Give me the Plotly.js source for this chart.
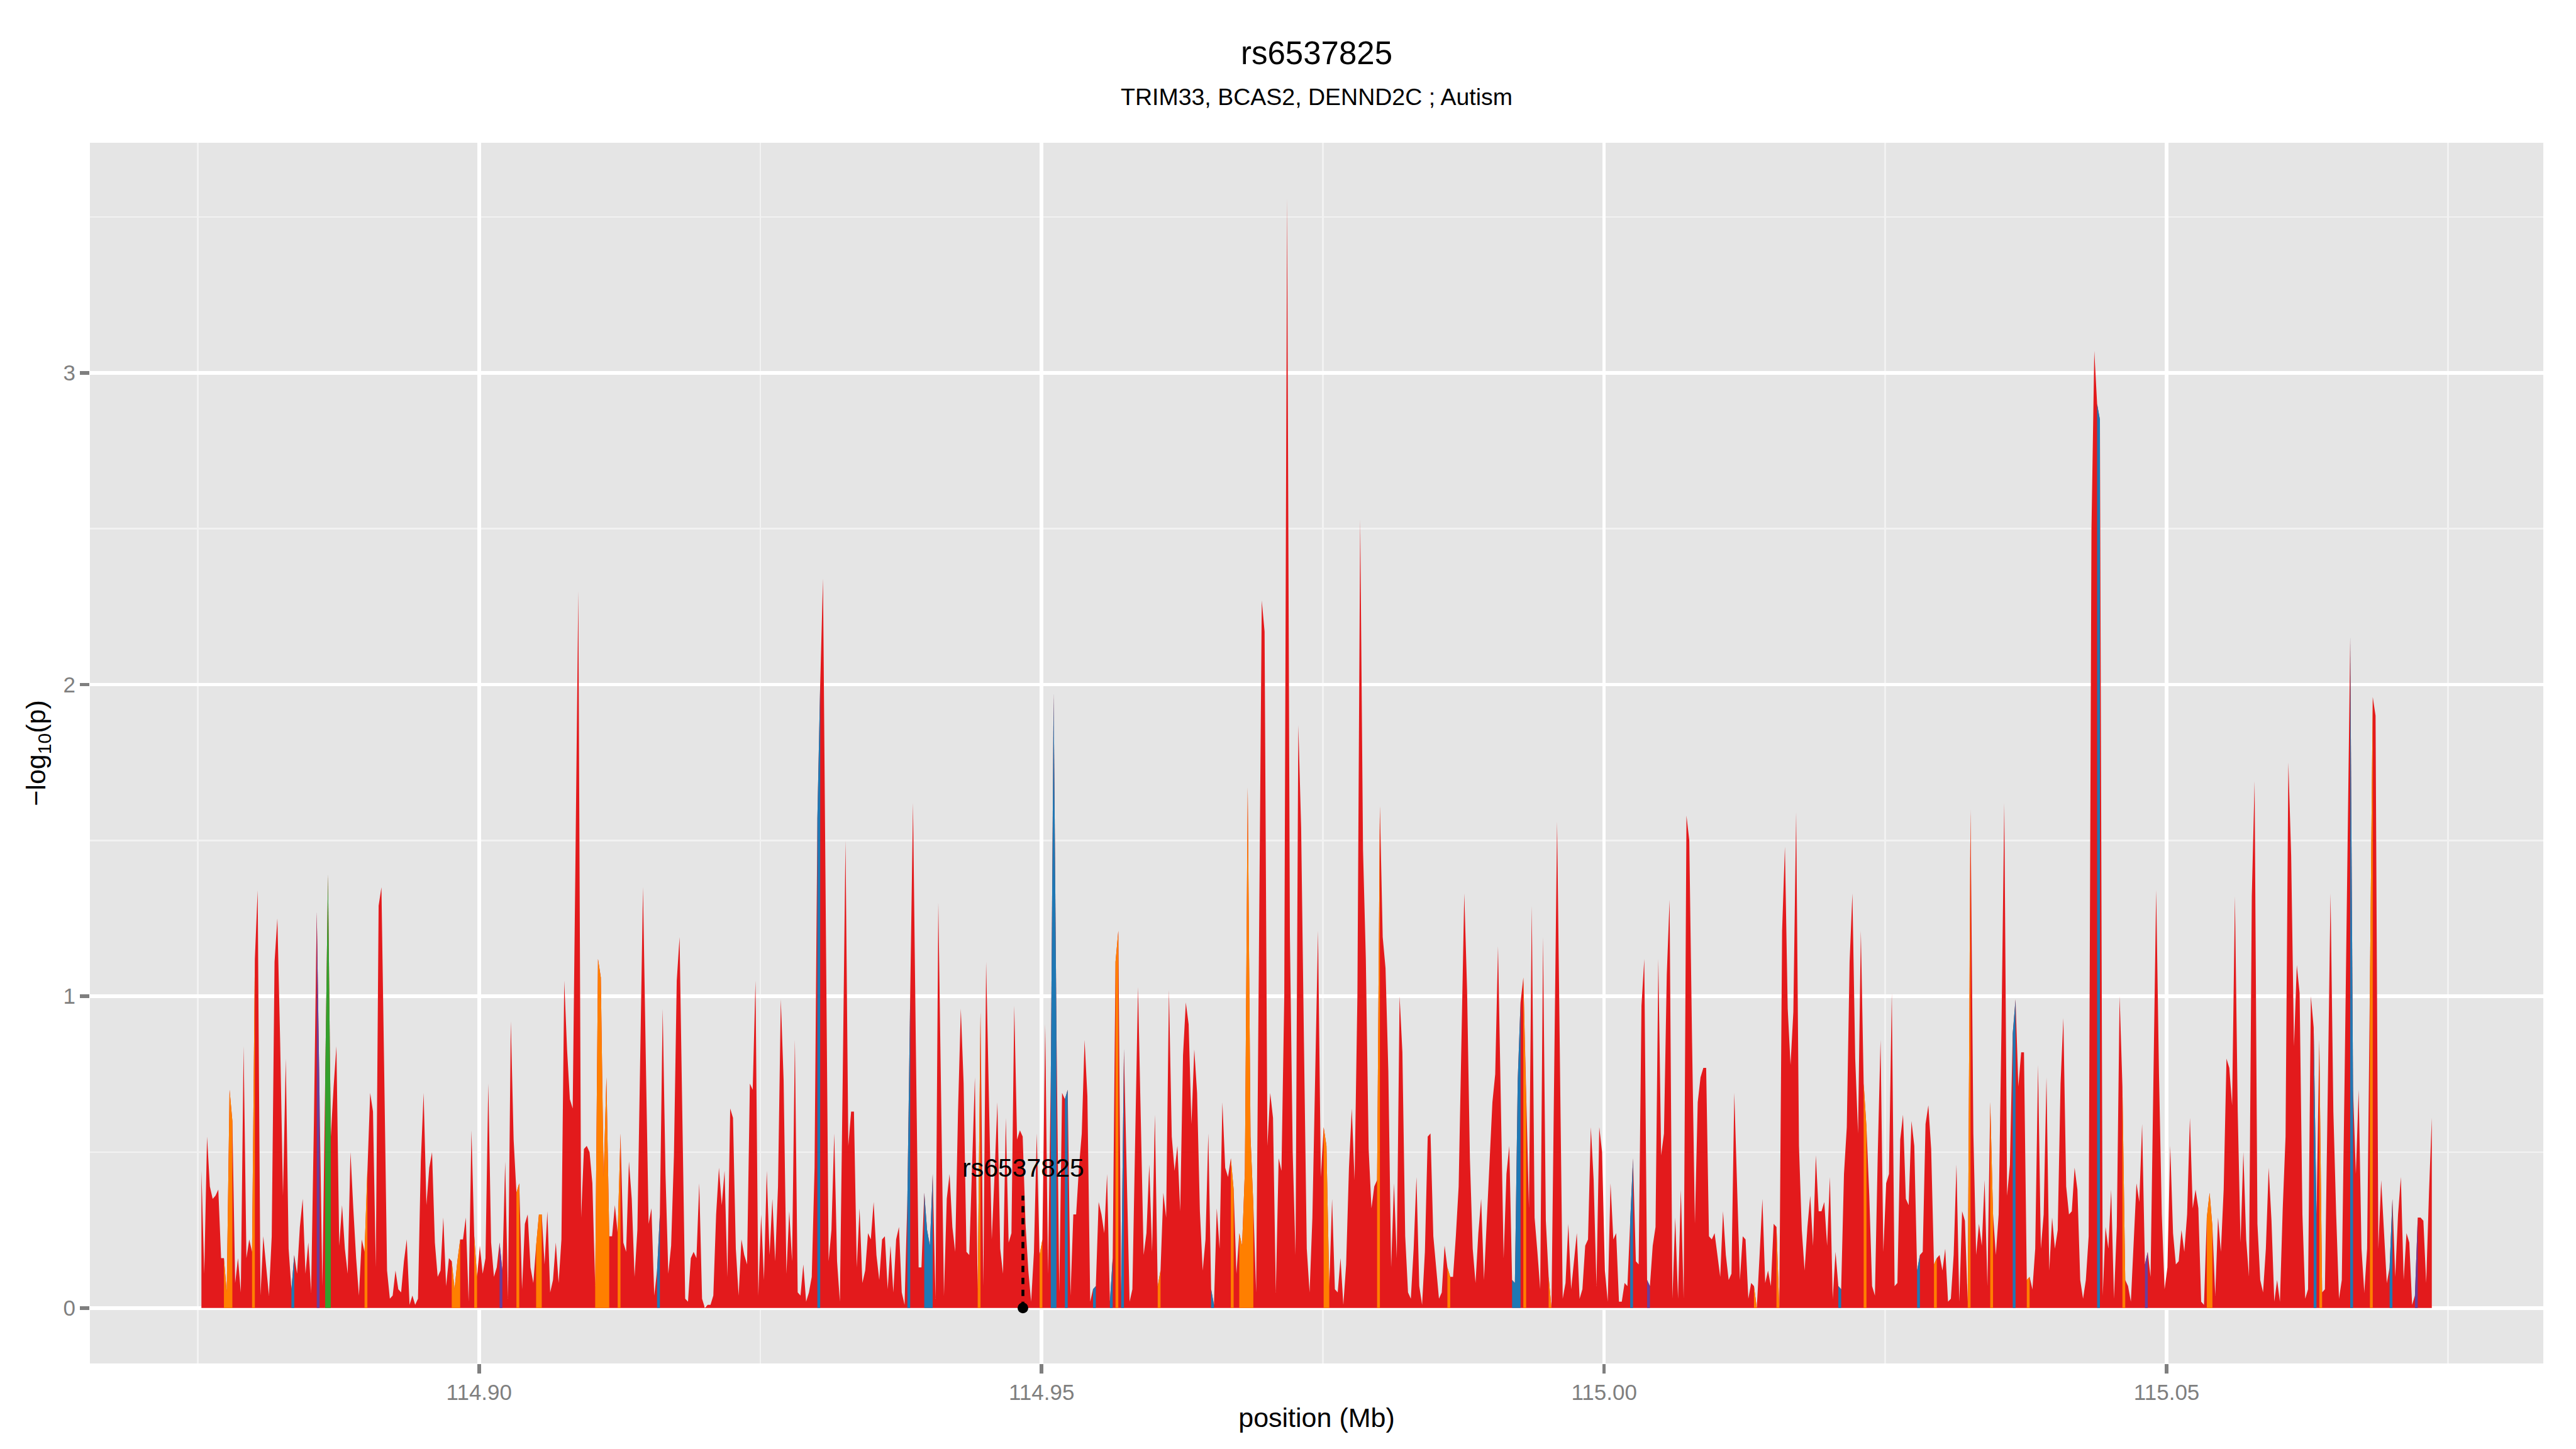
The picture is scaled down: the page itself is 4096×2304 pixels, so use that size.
<!DOCTYPE html>
<html><head><meta charset="utf-8">
<script src="https://cdn.plot.ly/plotly-3.0.1.min.js"></script>
<style>html,body{margin:0;padding:0;background:#fff}#chart{width:4096px;height:2304px}</style>
</head><body><div id="chart"></div>
<script>
// SNP positions (Mb)
const positionMb = [
114.87532,114.87557,114.87582,
114.87607,114.87632,114.87657,114.87682,114.87707,114.87732,114.87757,114.87782,
114.87807,114.87832,114.87857,114.87882,114.87907,114.87932,114.87957,114.87982,
114.88007,114.88032,114.88057,114.88082,114.88107,114.88132,114.88157,114.88182,
114.88207,114.88232,114.88257,114.88282,114.88307,114.88332,114.88357,114.88382,
114.88407,114.88432,114.88457,114.88482,114.88507,114.88532,114.88557,114.88582,
114.88607,114.88632,114.88657,114.88682,114.88707,114.88732,114.88757,114.88782,
114.88807,114.88832,114.88857,114.88882,114.88907,114.88932,114.88957,114.88982,
114.89007,114.89032,114.89057,114.89082,114.89107,114.89132,114.89157,114.89182,
114.89207,114.89232,114.89257,114.89282,114.89307,114.89332,114.89357,114.89382,
114.89407,114.89432,114.89457,114.89482,114.89507,114.89532,114.89557,114.89582,
114.89607,114.89632,114.89657,114.89682,114.89707,114.89732,114.89757,114.89782,
114.89807,114.89832,114.89857,114.89882,114.89907,114.89932,114.89957,114.89982,
114.90007,114.90032,114.90057,114.90082,114.90107,114.90132,114.90157,114.90182,
114.90207,114.90232,114.90257,114.90282,114.90307,114.90332,114.90357,114.90382,
114.90407,114.90432,114.90457,114.90482,114.90507,114.90532,114.90557,114.90582,
114.90607,114.90632,114.90657,114.90682,114.90707,114.90732,114.90757,114.90782,
114.90807,114.90832,114.90857,114.90882,114.90907,114.90932,114.90957,114.90982,
114.91007,114.91032,114.91057,114.91082,114.91107,114.91132,114.91157,114.91182,
114.91207,114.91232,114.91257,114.91282,114.91307,114.91332,114.91357,114.91382,
114.91407,114.91432,114.91457,114.91482,114.91507,114.91532,114.91557,114.91582,
114.91607,114.91632,114.91657,114.91682,114.91707,114.91732,114.91757,114.91782,
114.91807,114.91832,114.91857,114.91882,114.91907,114.91932,114.91957,114.91982,
114.92007,114.92032,114.92057,114.92082,114.92107,114.92132,114.92157,114.92182,
114.92207,114.92232,114.92257,114.92282,114.92307,114.92332,114.92357,114.92382,
114.92407,114.92432,114.92457,114.92482,114.92507,114.92532,114.92557,114.92582,
114.92607,114.92632,114.92657,114.92682,114.92707,114.92732,114.92757,114.92782,
114.92807,114.92832,114.92857,114.92882,114.92907,114.92932,114.92957,114.92982,
114.93007,114.93032,114.93057,114.93082,114.93107,114.93132,114.93157,114.93182,
114.93207,114.93232,114.93257,114.93282,114.93307,114.93332,114.93357,114.93382,
114.93407,114.93432,114.93457,114.93482,114.93507,114.93532,114.93557,114.93582,
114.93607,114.93632,114.93657,114.93682,114.93707,114.93732,114.93757,114.93782,
114.93807,114.93832,114.93857,114.93882,114.93907,114.93932,114.93957,114.93982,
114.94007,114.94032,114.94057,114.94082,114.94107,114.94132,114.94157,114.94182,
114.94207,114.94232,114.94257,114.94282,114.94307,114.94332,114.94357,114.94382,
114.94407,114.94432,114.94457,114.94482,114.94507,114.94532,114.94557,114.94582,
114.94607,114.94632,114.94657,114.94682,114.94707,114.94732,114.94757,114.94782,
114.94807,114.94832,114.94857,114.94882,114.94907,114.94932,114.94957,114.94982,
114.95007,114.95032,114.95057,114.95082,114.95107,114.95132,114.95157,114.95182,
114.95207,114.95232,114.95257,114.95282,114.95307,114.95332,114.95357,114.95382,
114.95407,114.95432,114.95457,114.95482,114.95507,114.95532,114.95557,114.95582,
114.95607,114.95632,114.95657,114.95682,114.95707,114.95732,114.95757,114.95782,
114.95807,114.95832,114.95857,114.95882,114.95907,114.95932,114.95957,114.95982,
114.96007,114.96032,114.96057,114.96082,114.96107,114.96132,114.96157,114.96182,
114.96207,114.96232,114.96257,114.96282,114.96307,114.96332,114.96357,114.96382,
114.96407,114.96432,114.96457,114.96482,114.96507,114.96532,114.96557,114.96582,
114.96607,114.96632,114.96657,114.96682,114.96707,114.96732,114.96757,114.96782,
114.96807,114.96832,114.96857,114.96882,114.96907,114.96932,114.96957,114.96982,
114.97007,114.97032,114.97057,114.97082,114.97107,114.97132,114.97157,114.97182,
114.97207,114.97232,114.97257,114.97282,114.97307,114.97332,114.97357,114.97382,
114.97407,114.97432,114.97457,114.97482,114.97507,114.97532,114.97557,114.97582,
114.97607,114.97632,114.97657,114.97682,114.97707,114.97732,114.97757,114.97782,
114.97807,114.97832,114.97857,114.97882,114.97907,114.97932,114.97957,114.97982,
114.98007,114.98032,114.98057,114.98082,114.98107,114.98132,114.98157,114.98182,
114.98207,114.98232,114.98257,114.98282,114.98307,114.98332,114.98357,114.98382,
114.98407,114.98432,114.98457,114.98482,114.98507,114.98532,114.98557,114.98582,
114.98607,114.98632,114.98657,114.98682,114.98707,114.98732,114.98757,114.98782,
114.98807,114.98832,114.98857,114.98882,114.98907,114.98932,114.98957,114.98982,
114.99007,114.99032,114.99057,114.99082,114.99107,114.99132,114.99157,114.99182,
114.99207,114.99232,114.99257,114.99282,114.99307,114.99332,114.99357,114.99382,
114.99407,114.99432,114.99457,114.99482,114.99507,114.99532,114.99557,114.99582,
114.99607,114.99632,114.99657,114.99682,114.99707,114.99732,114.99757,114.99782,
114.99807,114.99832,114.99857,114.99882,114.99907,114.99932,114.99957,114.99982,
115.00007,115.00032,115.00057,115.00082,115.00107,115.00132,115.00157,115.00182,
115.00207,115.00232,115.00257,115.00282,115.00307,115.00332,115.00357,115.00382,
115.00407,115.00432,115.00457,115.00482,115.00507,115.00532,115.00557,115.00582,
115.00607,115.00632,115.00657,115.00682,115.00707,115.00732,115.00757,115.00782,
115.00807,115.00832,115.00857,115.00882,115.00907,115.00932,115.00957,115.00982,
115.01007,115.01032,115.01057,115.01082,115.01107,115.01132,115.01157,115.01182,
115.01207,115.01232,115.01257,115.01282,115.01307,115.01332,115.01357,115.01382,
115.01407,115.01432,115.01457,115.01482,115.01507,115.01532,115.01557,115.01582,
115.01607,115.01632,115.01657,115.01682,115.01707,115.01732,115.01757,115.01782,
115.01807,115.01832,115.01857,115.01882,115.01907,115.01932,115.01957,115.01982,
115.02007,115.02032,115.02057,115.02082,115.02107,115.02132,115.02157,115.02182,
115.02207,115.02232,115.02257,115.02282,115.02307,115.02332,115.02357,115.02382,
115.02407,115.02432,115.02457,115.02482,115.02507,115.02532,115.02557,115.02582,
115.02607,115.02632,115.02657,115.02682,115.02707,115.02732,115.02757,115.02782,
115.02807,115.02832,115.02857,115.02882,115.02907,115.02932,115.02957,115.02982,
115.03007,115.03032,115.03057,115.03082,115.03107,115.03132,115.03157,115.03182,
115.03207,115.03232,115.03257,115.03282,115.03307,115.03332,115.03357,115.03382,
115.03407,115.03432,115.03457,115.03482,115.03507,115.03532,115.03557,115.03582,
115.03607,115.03632,115.03657,115.03682,115.03707,115.03732,115.03757,115.03782,
115.03807,115.03832,115.03857,115.03882,115.03907,115.03932,115.03957,115.03982,
115.04007,115.04032,115.04057,115.04082,115.04107,115.04132,115.04157,115.04182,
115.04207,115.04232,115.04257,115.04282,115.04307,115.04332,115.04357,115.04382,
115.04407,115.04432,115.04457,115.04482,115.04507,115.04532,115.04557,115.04582,
115.04607,115.04632,115.04657,115.04682,115.04707,115.04732,115.04757,115.04782,
115.04807,115.04832,115.04857,115.04882,115.04907,115.04932,115.04957,115.04982,
115.05007,115.05032,115.05057,115.05082,115.05107,115.05132,115.05157,115.05182,
115.05207,115.05232,115.05257,115.05282,115.05307,115.05332,115.05357,115.05382,
115.05407,115.05432,115.05457,115.05482,115.05507,115.05532,115.05557,115.05582,
115.05607,115.05632,115.05657,115.05682,115.05707,115.05732,115.05757,115.05782,
115.05807,115.05832,115.05857,115.05882,115.05907,115.05932,115.05957,115.05982,
115.06007,115.06032,115.06057,115.06082,115.06107,115.06132,115.06157,115.06182,
115.06207,115.06232,115.06257,115.06282,115.06307,115.06332,115.06357,115.06382,
115.06407,115.06432,115.06457,115.06482,115.06507,115.06532,115.06557,115.06582,
115.06607,115.06632,115.06657,115.06682,115.06707,115.06732,115.06757,115.06782,
115.06807,115.06832,115.06857,115.06882,115.06907,115.06932,115.06957,115.06982,
115.07007,115.07032,115.07057,115.07082,115.07107,115.07132,115.07157,115.07182,
115.07207,115.07232,115.07257,115.07282,
115.07307,115.07332,115.07357
];

// -log10(p) at each SNP
const logP = [
0.44,0.11,0.55,0.39,0.35,0.36,0.38,0.16,0.16,0.05,
0.70,0.60,0.08,0.16,0.05,0.84,0.16,0.22,0.18,1.12,
1.34,0.04,0.23,0.13,0.04,0.23,1.11,1.25,0.85,0.36,
0.80,0.19,0.06,0.17,0.11,0.26,0.35,0.11,0.21,0.05,
0.60,1.27,0.68,0.07,0.73,1.39,0.55,0.71,0.84,0.20,
0.33,0.19,0.11,0.50,0.32,0.16,0.04,0.22,0.18,0.45,
0.69,0.63,0.13,1.29,1.35,0.75,0.12,0.03,0.04,0.12,
0.06,0.05,0.15,0.22,0.01,0.04,0.01,0.03,0.47,0.69,
0.33,0.45,0.50,0.21,0.10,0.12,0.29,0.07,0.16,0.15,
0.06,0.15,0.22,0.22,0.29,0.02,0.57,0.23,0.10,0.20,
0.11,0.16,0.72,0.21,0.10,0.13,0.21,0.12,0.47,0.03,
0.92,0.54,0.37,0.40,0.06,0.27,0.30,0.13,0.08,0.20,
0.30,0.30,0.14,0.31,0.05,0.09,0.21,0.08,0.22,1.05,
0.83,0.67,0.64,1.45,2.30,0.29,0.51,0.52,0.50,0.40,
0.07,1.12,1.06,0.42,0.74,0.23,0.23,0.33,0.24,0.56,
0.21,0.18,0.47,0.35,0.10,0.25,0.79,1.35,0.80,0.27,
0.32,0.04,0.12,0.30,0.96,0.43,0.11,0.20,0.49,1.05,
1.19,0.61,0.03,0.02,0.16,0.18,0.16,0.40,0.03,0.00,
0.01,0.01,0.04,0.30,0.45,0.33,0.44,0.10,0.64,0.61,
0.19,0.04,0.22,0.17,0.14,0.72,0.70,1.05,0.04,0.30,
0.09,0.44,0.17,0.35,0.15,0.39,0.99,0.73,0.11,0.31,
0.15,0.86,0.05,0.04,0.14,0.02,0.05,0.10,0.45,1.57,
2.00,2.34,1.20,0.15,0.25,0.56,0.15,0.02,0.73,1.50,
0.52,0.63,0.63,0.13,0.32,0.08,0.12,0.24,0.22,0.34,
0.17,0.09,0.22,0.23,0.06,0.20,0.05,0.22,0.26,0.05,
0.01,0.35,1.00,1.62,0.85,0.13,0.13,0.37,0.25,0.20,
0.43,0.03,1.30,0.65,0.04,0.35,0.43,0.26,0.18,0.63,
0.96,0.72,0.18,0.17,0.45,0.74,0.06,0.95,0.07,1.11,
0.67,0.22,0.43,0.66,0.19,0.11,0.61,0.21,0.24,0.97,
0.54,0.57,0.55,0.27,0.12,0.02,0.18,0.56,0.17,0.22,
0.91,0.11,0.75,1.97,0.90,0.05,0.69,0.67,0.70,0.04,
0.30,0.30,0.45,0.56,0.86,0.68,0.02,0.06,0.07,0.34,
0.30,0.24,0.43,0.02,0.16,1.11,1.21,0.05,0.83,0.40,
0.02,0.06,0.55,1.03,0.60,0.17,0.24,0.46,0.18,0.62,
0.07,0.12,0.37,0.29,1.02,0.55,0.44,0.52,0.31,0.81,
0.98,0.91,0.59,0.83,0.69,0.31,0.12,0.22,0.56,0.06,
0.01,0.32,0.19,0.66,0.45,0.42,0.48,0.38,0.11,0.24,
0.20,0.44,1.67,0.55,0.33,0.05,1.15,2.27,2.17,0.52,
0.69,0.61,0.05,0.48,0.44,1.00,3.56,1.20,0.50,0.17,
1.87,1.54,0.85,0.19,0.05,0.29,0.75,1.21,0.42,0.58,
0.52,0.07,0.35,0.06,0.05,0.16,0.01,0.14,0.45,0.64,
0.41,1.00,2.53,1.47,1.12,0.51,0.32,0.39,0.41,1.61,
1.19,1.09,0.76,0.13,0.40,0.16,1.00,0.82,0.23,0.05,
0.03,0.19,0.42,0.07,0.01,0.18,0.55,0.56,0.23,0.13,
0.03,0.05,0.20,0.13,0.10,0.10,0.23,0.39,0.90,1.33,
1.02,0.48,0.19,0.08,0.24,0.35,0.09,0.28,0.49,0.66,
0.75,1.16,0.66,0.16,0.43,0.52,0.09,0.08,0.73,0.98,
1.06,0.66,0.32,1.29,0.29,0.18,0.06,1.19,0.28,0.10,
0.00,0.78,1.56,0.80,0.03,0.08,0.27,0.06,0.15,0.24,
0.03,0.06,0.20,0.22,0.58,0.41,0.07,0.58,0.50,0.12,
0.02,0.40,0.22,0.24,0.02,0.02,0.08,0.07,0.28,0.48,
0.15,0.14,0.97,1.12,0.09,0.07,0.20,0.26,1.12,0.49,
0.56,1.07,1.31,0.03,0.29,0.03,0.38,0.03,1.58,1.50,
0.85,0.27,0.66,0.74,0.77,0.77,0.23,0.22,0.24,0.17,
0.10,0.31,0.17,0.09,0.11,0.69,0.40,0.09,0.23,0.22,
0.03,0.08,0.07,0.00,0.17,0.35,0.08,0.12,0.07,0.27,
0.26,0.00,1.21,1.48,0.96,0.78,0.95,1.59,0.52,0.25,
0.12,0.26,0.36,0.20,0.49,0.31,0.31,0.34,0.20,0.42,
0.03,0.18,0.07,0.06,0.43,0.58,1.11,1.33,0.80,0.56,
1.21,0.72,0.58,0.36,0.07,0.04,0.49,0.86,0.18,0.40,
0.43,1.01,0.07,0.08,0.54,0.62,0.35,0.33,0.60,0.52,
0.12,0.17,0.18,0.59,0.65,0.51,0.14,0.16,0.17,0.12,
0.19,0.02,0.03,0.17,0.46,0.02,0.31,0.28,0.02,1.60,
0.56,0.17,0.27,0.20,0.41,0.07,0.66,0.30,0.17,0.30,
0.90,1.62,0.36,0.46,0.88,0.99,0.71,0.82,0.82,0.09,
0.10,0.06,0.19,0.78,0.19,0.30,0.74,0.12,0.29,0.19,
0.25,0.72,0.93,0.39,0.30,0.31,0.45,0.38,0.09,0.03,
0.09,0.23,2.50,3.07,2.90,2.85,0.04,0.26,0.19,0.38,
0.03,0.26,1.00,0.71,0.09,0.07,0.02,0.22,0.40,0.34,
0.59,0.14,0.18,0.10,0.72,1.34,0.75,0.30,0.06,0.13,
0.52,0.24,0.14,0.15,0.25,0.18,0.30,0.61,0.32,0.38,
0.32,0.02,0.01,0.29,0.37,0.26,0.04,0.29,0.18,0.38,
0.80,0.77,0.65,1.32,0.63,0.21,0.50,0.22,0.10,1.32,
1.69,0.27,0.09,0.05,0.19,0.45,0.28,0.02,0.09,0.02,
0.32,0.55,1.75,1.45,0.84,1.10,1.01,0.30,0.03,0.06,
1.00,0.90,0.30,0.86,0.05,0.06,0.69,1.33,0.63,0.30,
0.03,0.09,0.74,1.45,2.15,0.70,0.43,0.70,0.19,0.05,
0.19,1.04,1.96,1.90,0.19,0.41,0.25,0.08,0.13,0.35,
0.10,0.30,0.42,0.09,0.24,0.21,0.01,0.04,0.29,0.29,
0.28,0.08,0.37,0.61
];

// LD-class runs: [first SNP index, last SNP index] filled with the class colour
const orangeRuns = [[8,11],[18,19],[58,59],[89,92],[97,98],[112,113],[119,121],[140,145],[148,149],
  [276,277],[298,299],[325,326],[340,341],[366,367],[369,374],[399,401],[418,419],[443,444],
  [470,471],[479,480],[552,553],[560,561],[591,592],[616,617],[628,629],[636,637],[649,650],
  [683,684],[713,715],[753,754],[771,772]];
const blueRuns = [[32,33],[162,163],[219,220],[251,252],[257,260],[302,304],[307,308],[317,318],
  [323,324],[327,328],[359,360],[466,469],[508,509],[582,583],[610,611],[644,645],[674,675],
  [751,752],[764,765],[778,779]];
const purpleRuns = [[41,42],[106,107],[514,515],[691,692],[787,788]];
const greenRuns = [[44,46]];

const classColors = {red:'#E31A1C', orange:'#FF7F00', blue:'#1F78B4', purple:'#6A3D9A', green:'#33A02C'};

// lead SNP
const leadSnpName = ['rs6537825'];
const leadSnpPos = [114.94834];
const leadSnpY = [0];
const leadLabelY = [0.45];
const leadConnectorTop = [0.36];

const traces = [];
traces.push({
  type:'scatter', mode:'lines', x: positionMb, y: logP,
  fill:'tozeroy', fillcolor: classColors.red,
  line:{width:0, color: classColors.red}, hoverinfo:'skip', showlegend:false
});
function addRuns(runs, color){
  runs.forEach(r => {
    traces.push({
      type:'scatter', mode:'lines',
      x: positionMb.slice(r[0], r[1]+1), y: logP.slice(r[0], r[1]+1),
      fill:'tozeroy', fillcolor: color, line:{width:0, color: color},
      hoverinfo:'skip', showlegend:false
    });
  });
}
addRuns(orangeRuns, classColors.orange);
addRuns(blueRuns, classColors.blue);
addRuns(purpleRuns, classColors.purple);
addRuns(greenRuns, classColors.green);

traces.push({
  type:'scatter', mode:'lines',
  x:[leadSnpPos[0], leadSnpPos[0]], y:[leadSnpY[0], leadConnectorTop[0]],
  line:{color:'#000', width:4.6, dash:'10px,9px'}, hoverinfo:'skip', showlegend:false
});
traces.push({
  type:'scatter', mode:'markers', x: leadSnpPos, y: leadSnpY,
  marker:{color:'#000', size:17}, hoverinfo:'skip', showlegend:false, cliponaxis:false
});

const FONT = 'Liberation Sans, Arial, Helvetica, sans-serif';
const layout = {
  width:4096, height:2304,
  paper_bgcolor:'#FFFFFF', plot_bgcolor:'#E5E5E5',
  margin:{l:143, r:52, t:227, b:136, pad:0},
  font:{family:FONT, color:'#000'},
  showlegend:false,
  title:{text:'rs6537825', font:{family:FONT, size:51, color:'#000'},
    x:0.5, xref:'paper', xanchor:'center', y:0.9635, yref:'container', yanchor:'middle'},
  xaxis:{
    range:[114.86541, 115.08348], tick0:114.9, dtick:0.05, tickformat:'.2f',
    showgrid:true, gridcolor:'#FFFFFF', gridwidth:5.5,
    minor:{dtick:0.025, tick0:114.9, showgrid:true, gridcolor:'#F2F2F2', gridwidth:2.8, ticks:''},
    ticks:'outside', ticklen:15, tickwidth:5.5, tickcolor:'#7F7F7F',
    tickfont:{family:FONT, size:35, color:'#7F7F7F'},
    zeroline:false, showline:false, automargin:false,
    title:{text:'position (Mb)', font:{family:FONT, size:43, color:'#000'}, standoff:6}
  },
  yaxis:{
    range:[-0.178, 3.738], tick0:0, dtick:1,
    showgrid:true, gridcolor:'#FFFFFF', gridwidth:5.5,
    minor:{dtick:0.5, tick0:0, showgrid:true, gridcolor:'#F2F2F2', gridwidth:2.8, ticks:''},
    ticks:'outside', ticklen:15, tickwidth:5.5, tickcolor:'#7F7F7F',
    tickfont:{family:FONT, size:35, color:'#7F7F7F'},
    zeroline:false, showline:false, automargin:false,
    title:{text:'\u2212log<sub>10</sub>(p)', font:{family:FONT, size:43, color:'#000'}, standoff:14}
  },
  annotations:[
    {text:'TRIM33, BCAS2, DENND2C ; Autism', xref:'paper', yref:'paper', x:0.5, y:1.0376,
     xanchor:'center', yanchor:'middle', showarrow:false, font:{family:FONT, size:37.5, color:'#000'}},
    {text:leadSnpName[0], xref:'x', yref:'y', x:leadSnpPos[0], y:leadLabelY[0],
     xanchor:'center', yanchor:'middle', showarrow:false, font:{family:FONT, size:41, color:'#000'}}
  ]
};
Plotly.newPlot('chart', traces, layout, {staticPlot:true, displayModeBar:false});
</script></body></html>
